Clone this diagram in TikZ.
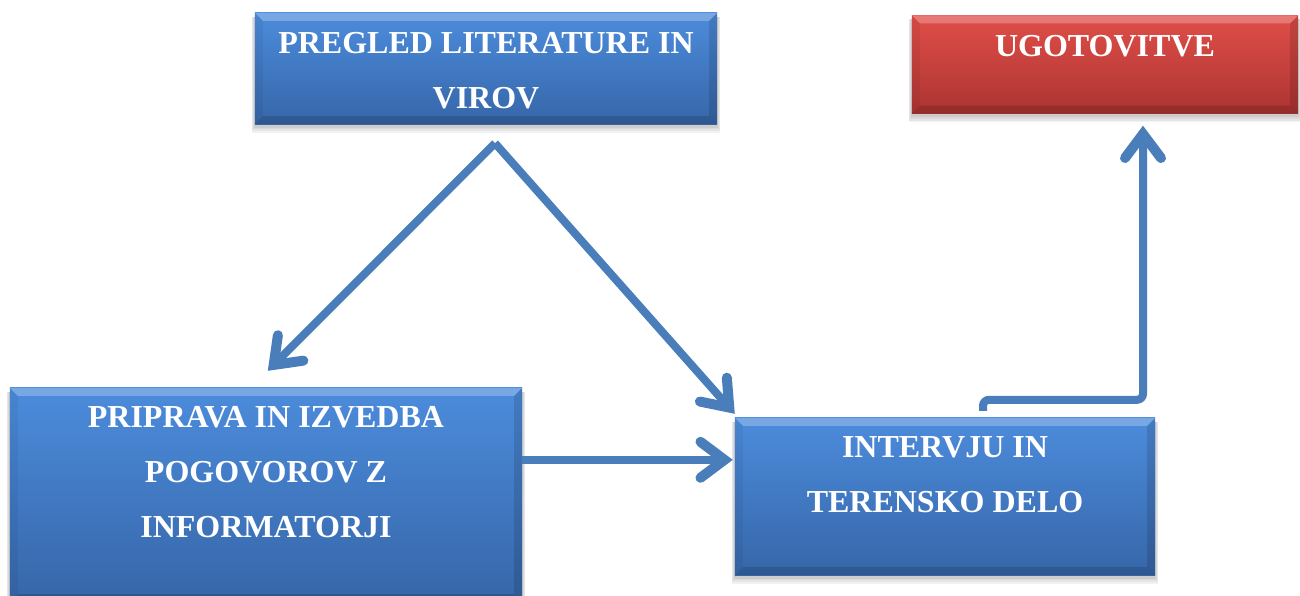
\documentclass[tikz,border=0pt]{standalone}
\usepackage{fontspec}
\setmainfont{Liberation Serif}
\usetikzlibrary{arrows.meta,calc}
\definecolor{bluetop}{RGB}{76,140,220}
\definecolor{bluebot}{RGB}{54,102,168}
\definecolor{redtop}{RGB}{224,78,72}
\definecolor{redbot}{RGB}{172,52,50}
\definecolor{arr}{RGB}{74,126,187}
\tikzset{
  boxdim/.style={draw=none, fill=none, inner sep=0pt, rectangle},
  lbl/.style={text=white, font=\fontsize{32}{55}\selectfont\bfseries, align=center, anchor=north, inner sep=0pt},
  conn/.style={draw=arr, line width=8pt, -{Straight Barb[length=24pt,width=36pt,line width=10pt,line cap=round,line join=miter]}},
}
\newcommand\bevel[1]{%
  \fill[white,opacity=0.25] (#1.north west) -- (#1.north east) -- ($(#1.north east)+(-8,8)$) -- ($(#1.north west)+(8,8)$) -- cycle;
  \fill[black,opacity=0.14] (#1.south west) -- (#1.south east) -- ($(#1.south east)+(-8,-8)$) -- ($(#1.south west)+(8,-8)$) -- cycle;
  \fill[black,opacity=0.05] (#1.north west) -- ($(#1.north west)+(8,8)$) -- ($(#1.south west)+(8,-8)$) -- (#1.south west) -- cycle;
  \fill[black,opacity=0.12] (#1.north east) -- ($(#1.north east)+(-8,8)$) -- ($(#1.south east)+(-8,-8)$) -- (#1.south east) -- cycle;
}
\newcommand\softshadow[1]{%
  \foreach \s in {1,2,3,4}{%
    \fill[black,opacity=0.05] ($(#1.north west)+(-\s*0.8,4)$) rectangle ($(#1.south east)+(\s*0.8,2+\s*1.6)$);
  }%
}
\begin{document}
\begin{tikzpicture}[x=1pt,y=-1pt]
\useasboundingbox (0,0) rectangle (1300,595);
\fill[white] (0,0) rectangle (1300,595);

% box geometry (invisible nodes)
\node[boxdim, minimum width=462pt, minimum height=111pt] (b1) at (486,68.5) {};
\node[boxdim, minimum width=386pt, minimum height=98pt] (b2) at (1105,64.5) {};
\node[boxdim, minimum width=512pt, minimum height=214pt] (b3) at (266,495) {};
\node[boxdim, minimum width=420pt, minimum height=157pt] (b4) at (945,496.5) {};

% shadows
\softshadow{b1}
\softshadow{b2}
\softshadow{b3}
\softshadow{b4}

% fills
\shade[top color=bluetop, bottom color=bluebot] (b1.north west) rectangle (b1.south east);
\shade[top color=redtop, bottom color=redbot] (b2.north west) rectangle (b2.south east);
\shade[top color=bluetop, bottom color=bluebot] (b3.north west) rectangle (b3.south east);
\shade[top color=bluetop, bottom color=bluebot] (b4.north west) rectangle (b4.south east);
\bevel{b1}
\bevel{b2}
\bevel{b3}
\bevel{b4}

% labels
\node[lbl] (t1) at ($(b1.north)+(0,19)$) {PREGLED LITERATURE IN\\VIROV};
\node[lbl] (t2) at ($(b2.north)+(0,20)$) {UGOTOVITVE};
\node[lbl] (t3) at ($(b3.north)+(0,18.5)$) {PRIPRAVA IN IZVEDBA\\POGOVOROV Z\\INFORMATORJI};
\node[lbl] (t4) at ($(b4.north)+(0,19)$) {INTERVJU IN\\TERENSKO DELO};

% connectors
\coordinate (apex) at ($(b1.south)+(9,19)$);
\coordinate (e1) at ($(b3.north west)+(258,-17)$);
\coordinate (e2) at ($(b4.north west)+(0,-4)$);
\coordinate (s3) at ($(b3.north east)+(0,72)$);
\coordinate (e3) at ($(b4.north west)+(-2,42)$);
\coordinate (s4) at ($(b4.north)+(38,-7)$);
\coordinate (e4) at ($(b2.south)+(38,12)$);

\draw[conn] (apex) -- (e1);
\draw[conn] (apex) -- (e2);
\draw[conn] (s3) -- (e3);
\draw[conn, rounded corners=6pt] (s4) -- ++(0,-11) -| (e4);
\end{tikzpicture}
\end{document}
